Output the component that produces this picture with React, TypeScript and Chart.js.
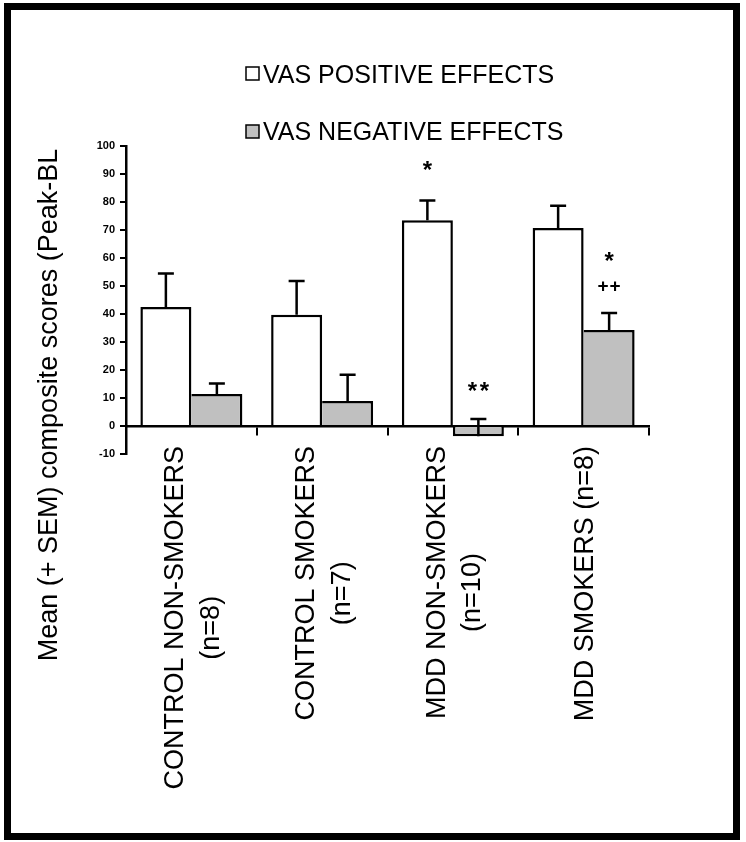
import React, { useEffect, useRef } from "react";
import { Chart, registerables } from "chart.js";

Chart.register(...registerables);

// ---- data ----
const categories = [
  "CONTROL NON-SMOKERS (n=8)",
  "CONTROL SMOKERS (n=7)",
  "MDD NON-SMOKERS (n=10)",
  "MDD SMOKERS (n=8)",
];
const categoryLines = [
  ["CONTROL NON-SMOKERS", "(n=8)"],
  ["CONTROL SMOKERS", "(n=7)"],
  ["MDD NON-SMOKERS", "(n=10)"],
  ["MDD SMOKERS (n=8)"],
];
const seriesNames = ["VAS POSITIVE EFFECTS", "VAS NEGATIVE EFFECTS"];
const positiveMeans = [42.5, 39.7, 73.5, 70.7];
const positiveSEM = [12, 12.1, 7, 8];
const negativeMeans = [11.4, 8.9, -3.7, 34.3];
const negativeSEM = [3.8, 9.4, 6.2, 6.1];
const annotationTexts = ["*", "**", "*", "++"];
const annotationCategory = [2, 2, 3, 3];
const annotationSeries = [0, 1, 1, 1];
const annotationValues = [93, 14, 60.5, 50];
const yMin = -10;
const yMax = 100;
const yStep = 10;
const yTitle = "Mean (+ SEM) composite scores (Peak-BL";

const FONT = '"Liberation Sans", Arial, sans-serif';
const GRAY = "#c0c0c0";

const overlayPlugin = {
  id: "overlay",
  afterDatasetsDraw(chart: any) {
    const ctx: CanvasRenderingContext2D = chart.ctx;
    const yScale = chart.scales.y;
    const means = [positiveMeans, negativeMeans];
    const sems = [positiveSEM, negativeSEM];
    ctx.save();
    ctx.strokeStyle = "#000";
    ctx.lineWidth = 2.5;
    for (let d = 0; d < 2; d++) {
      const meta = chart.getDatasetMeta(d);
      meta.data.forEach((el: any, i: number) => {
        const top = yScale.getPixelForValue(means[d][i] + sems[d][i]);
        ctx.beginPath();
        ctx.moveTo(el.x, el.y);
        ctx.lineTo(el.x, top);
        ctx.moveTo(el.x - 8, top);
        ctx.lineTo(el.x + 8, top);
        ctx.stroke();
      });
    }
    // significance marks
    ctx.fillStyle = "#000";
    annotationTexts.forEach((txt, k) => {
      const meta = chart.getDatasetMeta(annotationSeries[k]);
      const el: any = meta.data[annotationCategory[k]];
      const cy = yScale.getPixelForValue(annotationValues[k]);
      const isStar = txt.indexOf("*") >= 0;
      ctx.font = isStar ? `bold 24px ${FONT}` : `bold 19px ${FONT}`;
      ctx.textAlign = "center";
      ctx.textBaseline = "alphabetic";
      const chars = txt.split("");
      const gap = 12;
      chars.forEach((c, j) => {
        const m = ctx.measureText(c);
        const base = cy + (m.actualBoundingBoxAscent - m.actualBoundingBoxDescent) / 2;
        const cx = el.x + (j - (chars.length - 1) / 2) * gap;
        ctx.fillText(c, cx, base);
      });
    });
    ctx.restore();
  },
  afterDraw(chart: any) {
    const ctx: CanvasRenderingContext2D = chart.ctx;
    const xScale = chart.scales.x;
    ctx.save();
    ctx.fillStyle = "#000";
    // legend
    const fills = ["#ffffff", GRAY];
    ctx.font = `25px ${FONT}`;
    ctx.textAlign = "left";
    ctx.textBaseline = "alphabetic";
    seriesNames.forEach((name, i) => {
      const by = 67 + i * 58;
      ctx.fillStyle = fills[i];
      ctx.fillRect(246, by, 13, 13);
      ctx.strokeStyle = "#000";
      ctx.lineWidth = 1.5;
      ctx.strokeRect(246, by, 13, 13);
      ctx.fillStyle = "#000";
      ctx.fillText(name, 263, 83 + i * 57);
    });
    // y title
    ctx.font = `27px ${FONT}`;
    ctx.save();
    ctx.translate(57, 405);
    ctx.rotate(-Math.PI / 2);
    ctx.textAlign = "center";
    ctx.fillText(yTitle, 0, 0);
    ctx.restore();
    // category labels
    ctx.font = `27px ${FONT}`;
    const capH = 19.3;
    const lineGap = 35.5;
    const topY = 446;
    categoryLines.forEach((lines, i) => {
      const center = xScale.getPixelForValue(i);
      const widths = lines.map((l) => ctx.measureText(l).width);
      const W = Math.max(...widths);
      lines.forEach((l, j) => {
        const bx = center + (j - (lines.length - 1) / 2) * lineGap + capH / 2;
        const cyLine = topY + W / 2 + (j > 0 ? 10 : 0);
        ctx.save();
        ctx.translate(bx, cyLine);
        ctx.rotate(-Math.PI / 2);
        ctx.textAlign = "center";
        ctx.textBaseline = "alphabetic";
        ctx.fillText(l, 0, 0);
        ctx.restore();
      });
    });
    ctx.restore();
  },
};

export default function App() {
  const canvasRef = useRef<HTMLCanvasElement | null>(null);

  useEffect(() => {
    if (!canvasRef.current) return;
    const chart = new Chart(canvasRef.current, {
      type: "bar",
      data: {
        labels: categories,
        datasets: [
          {
            label: seriesNames[0],
            data: positiveMeans,
            backgroundColor: "#ffffff",
            borderColor: "#000000",
            borderWidth: { left: 2.5, top: 2.5, right: 2.5, bottom: 0 } as any,
            borderSkipped: "start",
            categoryPercentage: 0.78,
            barPercentage: 1.0,
          },
          {
            label: seriesNames[1],
            data: negativeMeans,
            backgroundColor: GRAY,
            borderColor: "#000000",
            borderWidth: ((ctx: any) =>
              negativeMeans[ctx.dataIndex] < 0
                ? 2.5
                : { left: 0, top: 2.5, right: 2.5, bottom: 0 }) as any,
            borderSkipped: "start",
            categoryPercentage: 0.78,
            barPercentage: 1.0,
          },
        ],
      },
      options: {
        responsive: false,
        animation: false,
        events: [],
        layout: { padding: { left: 0, right: 97, top: 146, bottom: 388 } },
        plugins: {
          legend: { display: false },
          tooltip: { enabled: false },
          title: { display: false },
        },
        scales: {
          x: {
            type: "category",
            position: { y: 0 } as any,
            offset: true,
            grid: {
              display: true,
              drawOnChartArea: false,
              drawTicks: true,
              tickLength: 8,
              color: "#000",
              lineWidth: 2,
              offset: true,
            },
            border: { display: true, color: "#000", width: 2.5 },
            ticks: { display: false },
          } as any,
          y: {
            min: yMin,
            max: yMax,
            ticks: {
              stepSize: yStep,
              color: "#000",
              font: { family: FONT, size: 11, weight: "bold" },
              padding: 5,
            },
            grid: {
              drawOnChartArea: false,
              drawTicks: true,
              tickLength: 6,
              color: "#000",
              lineWidth: 2,
            },
            border: { display: true, color: "#000", width: 2.5 },
            afterFit: (s: any) => {
              s.width = 126;
            },
          },
        },
      },
      plugins: [overlayPlugin],
    });
    return () => chart.destroy();
  }, []);

  return (
    <div style={{ position: "absolute", left: 0, top: 0, width: 746, height: 842, background: "#fff" }}>
      <canvas ref={canvasRef} width={746} height={842} style={{ display: "block" }} />
      <div
        style={{
          position: "absolute",
          left: 4,
          top: 3,
          width: 736,
          height: 837,
          border: "7px solid #000",
          boxSizing: "border-box",
          pointerEvents: "none",
        }}
      />
    </div>
  );
}
